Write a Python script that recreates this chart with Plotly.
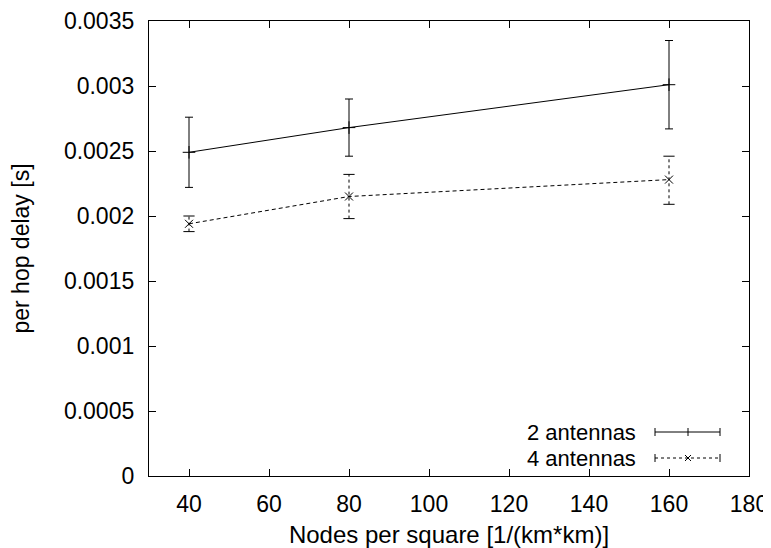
import plotly.graph_objects as go

# ---- data ----
nodes = [40, 80, 160]
two_mean = [0.00249, 0.00268, 0.00301]
two_hi = [0.00276, 0.00290, 0.00335]
two_lo = [0.00222, 0.00246, 0.00267]
four_mean = [0.00194, 0.00215, 0.00228]
four_hi = [0.00200, 0.00232, 0.00246]
four_lo = [0.00188, 0.00198, 0.00209]
series_names = ["2 antennas", "4 antennas"]
x_ticks = [40, 60, 80, 100, 120, 140, 160, 180]
y_ticks = [0, 0.0005, 0.001, 0.0015, 0.002, 0.0025, 0.003, 0.0035]
y_tick_text = ["0", "0.0005", "0.001", "0.0015", "0.002", "0.0025", "0.003", "0.0035"]

FONT = "Liberation Sans, Arial, Helvetica, sans-serif"

fig = go.Figure()

# 2 antennas: solid line with error bars
fig.add_trace(go.Scatter(
    x=nodes, y=two_mean, mode="lines+markers", name=series_names[0],
    line=dict(color="black", width=1),
    marker=dict(symbol="cross-thin", size=9, line=dict(color="black", width=1)),
    error_y=dict(type="data", symmetric=False,
                 array=[h - m for h, m in zip(two_hi, two_mean)],
                 arrayminus=[m - l for m, l in zip(two_mean, two_lo)],
                 color="black", thickness=1, width=4),
    showlegend=False,
))

# 4 antennas: dashed error bars
ex, ey = [], []
for xv, lo, hi in zip(nodes, four_lo, four_hi):
    ex += [xv, xv, None]
    ey += [lo, hi, None]
fig.add_trace(go.Scatter(
    x=ex, y=ey, mode="lines", line=dict(color="black", width=1, dash="3px,3px"),
    showlegend=False, hoverinfo="skip",
))
fig.add_trace(go.Scatter(
    x=nodes + nodes, y=four_lo + four_hi, mode="markers",
    marker=dict(symbol="line-ew", size=8, line=dict(color="black", width=1)),
    showlegend=False, hoverinfo="skip",
))
fig.add_trace(go.Scatter(
    x=nodes, y=four_mean, mode="lines+markers", name=series_names[1],
    line=dict(color="black", width=1, dash="4px,3px"),
    marker=dict(symbol="x-thin", size=8, line=dict(color="black", width=1)),
    showlegend=False,
))

# ---- layout geometry (page has an 8px body margin) ----
OFF = 8
FW, FH = 771 - OFF, 548 - OFF
ML, MR, MT, MB = 149 - OFF, 22, 21 - OFF, 72
PX0, PX1, PY0, PY1 = 149, 749, 21, 476  # plot area in page pixels
def px(xp):
    return (xp - PX0) / (PX1 - PX0)
def py(yp):
    return (PY1 - yp) / (PY1 - PY0)

# ---- key (gnuplot style: text left, sample right) ----
key_rows = [(432, "solid", "plus"), (458, "dash", "x")]
for name, (yy, dash, mk) in zip(series_names, key_rows):
    fig.add_annotation(x=px(638), y=py(yy), xref="paper", yref="paper",
                       text=name, showarrow=False, xanchor="right", yanchor="middle",
                       font=dict(family=FONT, size=22, color="black"))
    ld = dict(color="black", width=1, dash="solid" if dash == "solid" else "3px,3px")
    fig.add_shape(type="line", xref="paper", yref="paper",
                  x0=px(655), x1=px(720), y0=py(yy), y1=py(yy), line=ld)
    for xc in (655, 720):
        fig.add_shape(type="line", xref="paper", yref="paper",
                      x0=px(xc), x1=px(xc), y0=py(yy - 4), y1=py(yy + 4),
                      line=dict(color="black", width=1))
    if mk == "plus":
        fig.add_shape(type="line", xref="paper", yref="paper",
                      x0=px(688), x1=px(688), y0=py(yy - 4), y1=py(yy + 4),
                      line=dict(color="black", width=1))
    else:
        fig.add_shape(type="line", xref="paper", yref="paper",
                      x0=px(685), x1=px(691), y0=py(yy - 3), y1=py(yy + 3),
                      line=dict(color="black", width=1))
        fig.add_shape(type="line", xref="paper", yref="paper",
                      x0=px(685), x1=px(691), y0=py(yy + 3), y1=py(yy - 3),
                      line=dict(color="black", width=1))

fig.update_layout(
    width=FW, height=FH,
    margin=dict(l=ML, r=MR, t=MT, b=MB),
    paper_bgcolor="white", plot_bgcolor="white",
    font=dict(family=FONT, size=23, color="black"),
    showlegend=False,
)
fig.update_xaxes(
    range=[30, 180], tickvals=x_ticks, ticks="inside", ticklen=7,
    tickcolor="black", showline=True, linecolor="black", linewidth=1.3,
    mirror="ticks", showgrid=False, zeroline=False, ticklabelstandoff=7,
    automargin=False,
    title=dict(text="Nodes per square [1/(km*km)]", font=dict(size=24), standoff=10),
)
fig.update_yaxes(
    range=[0, 0.0035], tickvals=y_ticks, ticktext=y_tick_text, ticks="inside",
    ticklen=7, tickcolor="black", showline=True, linecolor="black", linewidth=1.3,
    mirror="ticks", showgrid=False, zeroline=False, ticklabelstandoff=9,
    automargin=False,
    title=dict(text="per hop delay [s]", font=dict(size=23), standoff=34),
)

fig.write_html("out.html")
